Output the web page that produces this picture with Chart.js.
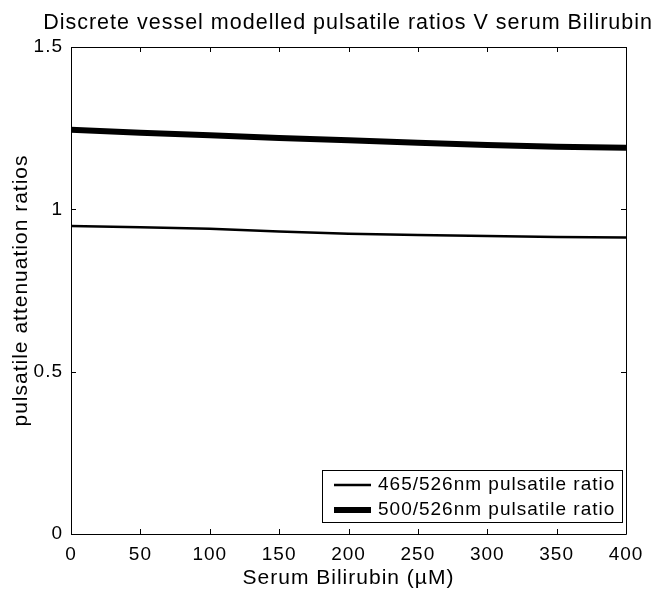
<!DOCTYPE html>
<html>
<head>
<meta charset="utf-8">
<script src="https://cdn.jsdelivr.net/npm/chart.js@4"></script>
<style>
  html, body { margin: 0; padding: 0; background: #fff; }
  #wrap { width: 657px; height: 591px; }
</style>
</head>
<body>
<div id="wrap"><canvas id="myChart" width="657" height="591"></canvas></div>
<script>
// Serum bilirubin (uM) along the x-axis
var bilirubin = [0, 50, 100, 150, 200, 250, 300, 350, 400];
// pulsatile attenuation ratios
var ratio465 = [0.949, 0.945, 0.940, 0.932, 0.925, 0.921, 0.918, 0.915, 0.913];
var ratio500 = [1.245, 1.236, 1.228, 1.220, 1.213, 1.205, 1.198, 1.193, 1.190];
var seriesNames = ['465/526nm pulsatile ratio', '500/526nm pulsatile ratio'];
var xTicks = [0, 50, 100, 150, 200, 250, 300, 350, 400];
var yTicks = [0, 0.5, 1, 1.5];

var FONT = "'Liberation Sans', Arial, Helvetica, sans-serif";

function toPoints(xs, ys) {
  return xs.map(function (x, i) { return { x: x, y: ys[i] }; });
}

// matlab-ish frame: box, inward ticks on all four sides, legend bottom right
var matlabFrame = {
  id: 'matlabFrame',
  beforeDraw: function (chart) {
    chart.ctx.letterSpacing = '1px';
  },
  afterDraw: function (chart) {
    var ctx = chart.ctx;
    var a = chart.chartArea;
    var xs = chart.scales.x, ys = chart.scales.y;
    var tl = 5;
    ctx.save();
    ctx.strokeStyle = '#000';
    ctx.lineWidth = 1;
    ctx.beginPath();
    ctx.rect(a.left + 0.5, a.top + 0.5, a.right - a.left, a.bottom - a.top);
    xTicks.forEach(function (v) {
      var px = Math.round(xs.getPixelForValue(v)) + 0.5;
      ctx.moveTo(px, a.bottom); ctx.lineTo(px, a.bottom - tl);
      ctx.moveTo(px, a.top); ctx.lineTo(px, a.top + tl);
    });
    yTicks.forEach(function (v) {
      var py = Math.round(ys.getPixelForValue(v)) + 0.5;
      ctx.moveTo(a.left, py); ctx.lineTo(a.left + tl, py);
      ctx.moveTo(a.right, py); ctx.lineTo(a.right - tl, py);
    });
    ctx.stroke();

    // legend
    var bx = a.right - 304, by = a.bottom - 64, bw = 300, bh = 52;
    ctx.fillStyle = '#fff';
    ctx.fillRect(bx, by, bw, bh);
    ctx.strokeRect(bx + 0.5, by + 0.5, bw, bh);
    ctx.font = '19px ' + FONT;
    ctx.textBaseline = 'middle';
    ctx.textAlign = 'left';
    ctx.letterSpacing = '1px';
    chart.data.datasets.forEach(function (ds, i) {
      var ly = by + 15 + i * 25;
      ctx.beginPath();
      ctx.lineWidth = ds.borderWidth;
      ctx.moveTo(bx + 12, ly); ctx.lineTo(bx + 49, ly);
      ctx.stroke();
      ctx.fillStyle = '#000';
      ctx.fillText(ds.label, bx + 56, ly);
    });
    ctx.restore();
  }
};

var ctx = document.getElementById('myChart');
var myChart = new Chart(ctx, {
  type: 'line',
  data: {
    datasets: [
      {
        label: seriesNames[0],
        data: toPoints(bilirubin, ratio465),
        borderColor: '#000',
        borderWidth: 2.5,
        pointRadius: 0,
        tension: 0,
        fill: false
      },
      {
        label: seriesNames[1],
        data: toPoints(bilirubin, ratio500),
        borderColor: '#000',
        borderWidth: 6,
        pointRadius: 0,
        tension: 0,
        fill: false
      }
    ]
  },
  options: {
    responsive: false,
    animation: false,
    layout: { padding: { left: 0, right: 4, top: 0, bottom: 0 } },
    plugins: {
      legend: { display: false },
      tooltip: { enabled: false },
      title: {
        display: true,
        text: 'Discrete vessel modelled pulsatile ratios V serum Bilirubin',
        color: '#000',
        fullSize: true,
        align: 'end',
        font: { family: FONT, size: 21.5, weight: 'normal', lineHeight: 1.2 },
        padding: { top: 10.1, bottom: 11.1 }
      }
    },
    scales: {
      x: {
        type: 'linear',
        min: 0,
        max: 400,
        afterBuildTicks: function (s) { s.ticks = xTicks.map(function (v) { return { value: v }; }); },
        afterFit: function (s) { s.height = 57; },
        grid: { display: false, drawTicks: false },
        border: { display: false },
        ticks: {
          color: '#000',
          padding: 9,
          maxRotation: 0,
          font: { family: FONT, size: 19 },
          callback: function (v) { return String(v); }
        },
        title: {
          display: true,
          text: 'Serum Bilirubin (\u00b5M)',
          color: '#000',
          font: { family: FONT, size: 21, lineHeight: 1.2 },
          padding: { top: 0, bottom: 0 }
        }
      },
      y: {
        min: 0,
        max: 1.5,
        afterBuildTicks: function (s) { s.ticks = yTicks.map(function (v) { return { value: v }; }); },
        afterFit: function (s) { s.width = 71; },
        grid: { display: false, drawTicks: false },
        border: { display: false },
        ticks: {
          color: '#000',
          padding: 8,
          font: { family: FONT, size: 19 },
          callback: function (v) { return String(v); }
        },
        title: {
          display: true,
          text: 'pulsatile attenuation ratios',
          color: '#000',
          font: { family: FONT, size: 21, lineHeight: 1.2 },
          padding: { top: 8.4, bottom: 0 }
        }
      },
      // empty right-hand axis, only reserves the gap right of the box
      yRight: {
        position: 'right',
        min: 0,
        max: 1.5,
        afterFit: function (s) { s.width = 27; },
        grid: { display: false, drawTicks: false },
        border: { display: false },
        ticks: { display: false }
      }
    }
  },
  plugins: [matlabFrame]
});
</script>
</body>
</html>
